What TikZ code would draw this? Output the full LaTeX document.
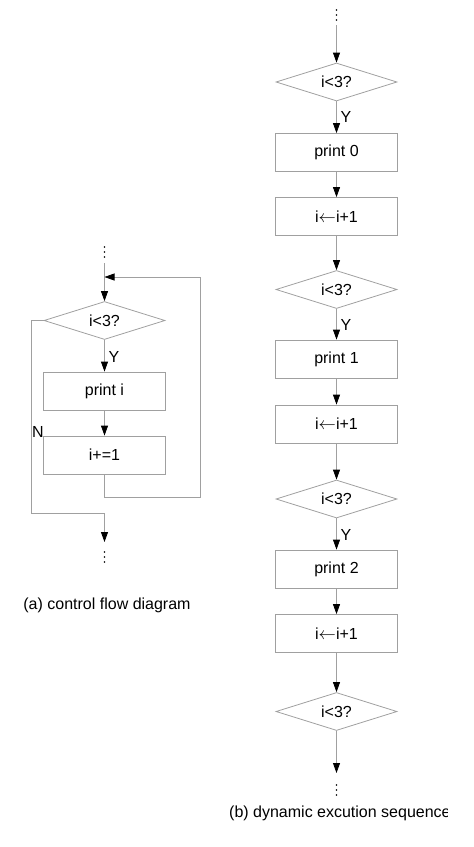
\documentclass[tikz,border=0pt]{standalone}
\usepackage{fontspec}
\setmainfont{Liberation Sans}
\usetikzlibrary{shapes.geometric,arrows.meta}
\definecolor{ln}{RGB}{160,160,160}
\tikzset{
  every node/.style={font=\fontsize{16}{19}\selectfont},
  boxnode/.style={draw=ln,line width=0.8pt,rectangle,minimum width=122pt,minimum height=38pt,inner sep=0pt},
  dianode/.style={draw=ln,line width=0.8pt,diamond,aspect=3.2,minimum width=121pt,minimum height=38pt,inner sep=0pt},
  conn/.style={draw=ln,line width=0.8pt},
  arr/.style={conn,-{Triangle[length=10pt,width=7pt,black]}},
  dotc/.style={fill=black,circle,inner sep=0pt,minimum size=1.6pt},
  lbl/.style={inner sep=0pt,font=\fontsize{16}{19}\selectfont},
}
\newcommand{\incr}{i$\leftarrow$i+1}
\begin{document}
\begin{tikzpicture}[x=1pt,y=-1pt]
\useasboundingbox (0,0) rectangle (474,847);
% ---------- (a) ----------
\node[dotc] (ad1) at (104.5,247) {};
\node[dotc] (ad2) at (104.5,252) {};
\node[dotc] (ad3) at (104.5,257) {};
\coordinate (atop) at (104.5,263);
\coordinate (aj) at (104.5,277);
\node[dianode] (adia) at (104.5,320.5) {i<3?};
\node[boxnode] (aprint) at (104.5,391) {print i};
\node[boxnode] (ainc) at (104.5,455) {i+=1};
\coordinate (alr) at (200,497);
\coordinate (anl) at (31,513);
\coordinate (abot) at (104.5,542);
\node[dotc] (ab1) at (104.5,552) {};
\node[dotc] (ab2) at (104.5,557) {};
\node[dotc] (ab3) at (104.5,562) {};
\draw[arr] (atop) -- (adia.north);
\draw[arr] (adia.south) -- (aprint.north);
\draw[arr] (aprint.south) -- (ainc.north);
\draw[arr] (ainc.south) |- (alr) |- (aj);
\draw[arr] (adia.west) -| (anl) -| (abot);
\node[lbl] (ay) at (114,357) {Y};
\node[lbl] (an) at (38,432) {N};
\node[inner sep=0pt,font=\fontsize{16}{19}\selectfont] (capa) at (107,605) {(a) control flow diagram};
% ---------- (b) ----------
\node[dotc] (bd1) at (336.5,10) {};
\node[dotc] (bd2) at (336.5,15) {};
\node[dotc] (bd3) at (336.5,20) {};
\coordinate (btop) at (336.5,25);
\node[dianode] (d1) at (336.5,82) {i<3?};
\node[boxnode] (p0) at (336.5,152.5) {print 0};
\node[boxnode] (i1) at (336.5,216.5) {\incr};
\node[dianode] (d2) at (336.5,289.5) {i<3?};
\node[boxnode] (p1) at (336.5,359) {print 1};
\node[boxnode] (i2) at (336.5,424) {\incr};
\node[dianode] (d3) at (336.5,499) {i<3?};
\node[boxnode] (p2) at (336.5,569) {print 2};
\node[boxnode] (i3) at (336.5,633.5) {\incr};
\node[dianode] (d4) at (336.5,711.5) {i<3?};
\coordinate (bbot) at (336.5,773);
\node[dotc] (bb1) at (336.5,785) {};
\node[dotc] (bb2) at (336.5,790) {};
\node[dotc] (bb3) at (336.5,795) {};
\draw[arr] (btop) -- (d1.north);
\draw[arr] (d1.south) -- (p0.north);
\draw[arr] (p0.south) -- (i1.north);
\draw[arr] (i1.south) -- (d2.north);
\draw[arr] (d2.south) -- (p1.north);
\draw[arr] (p1.south) -- (i2.north);
\draw[arr] (i2.south) -- (d3.north);
\draw[arr] (d3.south) -- (p2.north);
\draw[arr] (p2.south) -- (i3.north);
\draw[arr] (i3.south) -- (d4.north);
\draw[arr] (d4.south) -- (bbot);
\node[lbl] (y1) at (346,117) {Y};
\node[lbl] (y2) at (346,325) {Y};
\node[lbl] (y3) at (346,535) {Y};
\begin{scope}
\clip (0,790) rectangle (447,847);
\node[inner sep=0pt,anchor=west,font=\fontsize{16}{19}\selectfont] (capb) at (229,813) {(b) dynamic excution sequence};
\end{scope}
\end{tikzpicture}
\end{document}
